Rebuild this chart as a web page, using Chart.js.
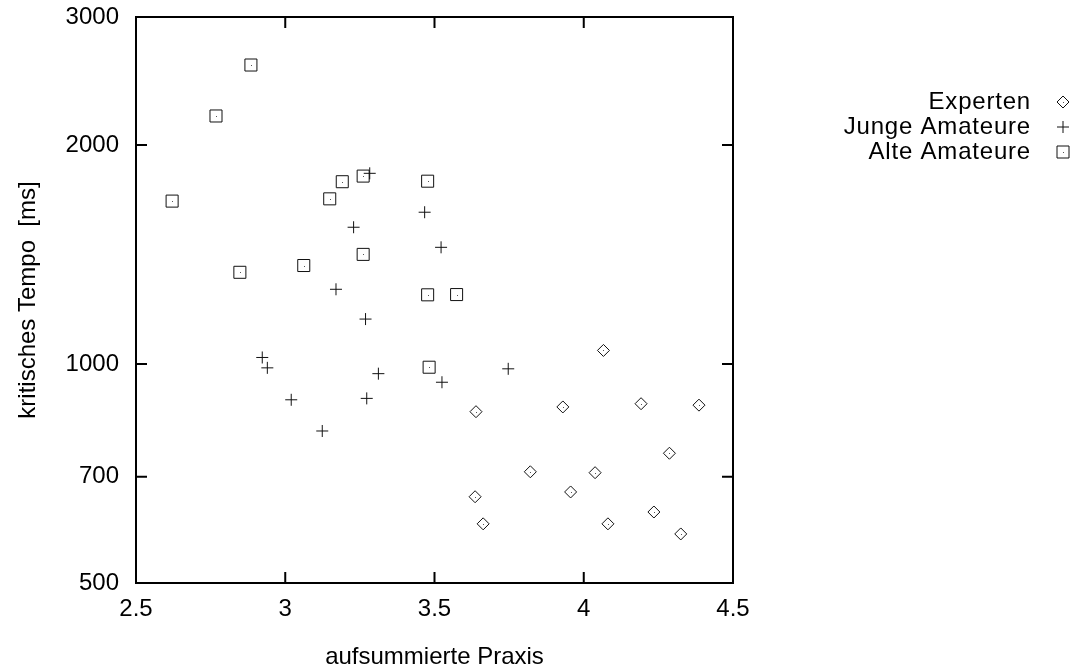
<!DOCTYPE html>
<html>
<head>
<meta charset="utf-8">
<script src="https://cdn.jsdelivr.net/npm/chart.js@4.4.0/dist/chart.umd.min.js"></script>
<style>
html,body{margin:0;padding:0;background:#fff;}
#wrap{width:1074px;height:672px;}
</style>
</head>
<body>
<div id="wrap"><canvas id="c" width="1074" height="672"></canvas></div>
<script>
const seriesNames = ['Experten', 'Junge Amateure', 'Alte Amateure'];
const expertenX = [4.066, 3.639, 3.930, 4.192, 4.386, 4.287, 3.821, 4.038, 3.956, 3.636, 4.235, 3.663, 4.081, 4.325];
const expertenY = [1044, 860, 873, 882, 878, 754, 711, 709, 667, 657, 626, 603, 603, 584];
const jungeX = [3.283, 3.467, 3.229, 3.522, 3.170, 3.269, 2.923, 2.940, 3.312, 3.525, 3.020, 3.273, 3.124, 3.747];
const jungeY = [1829, 1617, 1542, 1447, 1267, 1153, 1021, 988, 970, 944, 893, 897, 809, 985];
const alteX = [2.885, 2.768, 2.621, 3.149, 3.191, 3.261, 3.477, 2.848, 3.062, 3.261, 3.477, 3.574, 3.482];
const alteY = [2577, 2193, 1675, 1687, 1781, 1813, 1784, 1337, 1366, 1415, 1245, 1246, 990];
const xTicks = [2.5, 3, 3.5, 4, 4.5];
const yTicks = [500, 700, 1000, 2000, 3000];
const xTitle = 'aufsummierte Praxis';
const yTitle = 'kritisches Tempo  [ms]';

const FONT = 'Liberation Sans';
const FSIZE = 24;
const pts = (xs, ys) => xs.map((x, i) => ({x: x, y: ys[i]}));

const styles = [
  {pointStyle: 'rectRot', pointRadius: 6},
  {pointStyle: 'cross', pointRadius: 6},
  {pointStyle: 'rect', pointRadius: 8.5}
];
const dataSets = [pts(expertenX, expertenY), pts(jungeX, jungeY), pts(alteX, alteY)];

function drawMarker(ctx, style, x, y) {
  ctx.beginPath();
  if (style === 'rectRot') {
    const r = 6;
    ctx.moveTo(x - r, y); ctx.lineTo(x, y - r); ctx.lineTo(x + r, y); ctx.lineTo(x, y + r); ctx.closePath();
  } else if (style === 'cross') {
    const r = 6;
    ctx.moveTo(x - r, y); ctx.lineTo(x + r, y); ctx.moveTo(x, y - r); ctx.lineTo(x, y + r);
  } else {
    const s = 6;
    ctx.rect(x - s, y - s, 2 * s, 2 * s);
  }
  ctx.stroke();
  if (style !== 'cross') {
    ctx.fillStyle = '#555';
    ctx.fillRect(Math.round(x), Math.round(y), 1, 1);
    ctx.fillStyle = '#000';
  }
}

const framePlugin = {
  id: 'frame',
  afterDatasetsDraw(chart) {
    const ctx = chart.ctx;
    ctx.save();
    ctx.fillStyle = '#555';
    chart.data.datasets.forEach((ds, i) => {
      if (ds.pointStyle === 'cross') return;
      chart.getDatasetMeta(i).data.forEach(el => {
        ctx.fillRect(Math.round(el.x), Math.round(el.y), 1, 1);
      });
    });
    ctx.restore();
  },
  afterDraw(chart) {
    const ctx = chart.ctx;
    const a = chart.chartArea;
    const xs = chart.scales.x, ys = chart.scales.y;
    const L = 11;
    ctx.save();
    ctx.strokeStyle = '#000';
    ctx.lineWidth = 2;
    ctx.beginPath();
    xTicks.forEach(v => {
      const px = xs.getPixelForValue(v);
      ctx.moveTo(px, a.bottom); ctx.lineTo(px, a.bottom - L);
      ctx.moveTo(px, a.top); ctx.lineTo(px, a.top + L);
    });
    yTicks.forEach(v => {
      const py = ys.getPixelForValue(v);
      ctx.moveTo(a.left, py); ctx.lineTo(a.left + L, py);
      ctx.moveTo(a.right, py); ctx.lineTo(a.right - L, py);
    });
    ctx.stroke();
    ctx.strokeRect(a.left, a.top, a.right - a.left, a.bottom - a.top);
    // legend
    ctx.font = FSIZE + 'px "' + FONT + '"';
    if ('letterSpacing' in ctx) ctx.letterSpacing = '0.8px';
    ctx.fillStyle = '#000';
    ctx.textAlign = 'right';
    ctx.textBaseline = 'middle';
    ctx.lineWidth = 1;
    ctx.strokeStyle = '#111';
    const rows = [102, 127, 152];
    chart.data.datasets.forEach((ds, i) => {
      ctx.fillText(ds.label, 1031, rows[i]);
      drawMarker(ctx, ds.pointStyle, 1063, rows[i]);
    });
    if ('letterSpacing' in ctx) ctx.letterSpacing = '0px';
    ctx.restore();
  }
};

new Chart(document.getElementById('c'), {
  type: 'scatter',
  data: {
    datasets: dataSets.map((d, i) => ({
      label: seriesNames[i],
      data: d,
      pointStyle: styles[i].pointStyle,
      pointRadius: styles[i].pointRadius,
      pointHoverRadius: styles[i].pointRadius,
      borderColor: '#111',
      backgroundColor: 'rgba(0,0,0,0)',
      borderWidth: 1,
      pointBorderWidth: 1
    }))
  },
  options: {
    responsive: false,
    animation: false,
    events: [],
    layout: {padding: {left: 0, right: 341, top: 17, bottom: 0}},
    plugins: {legend: {display: false}, tooltip: {enabled: false}},
    scales: {
      x: {
        type: 'linear', min: 2.5, max: 4.5,
        afterBuildTicks(s) { s.ticks = xTicks.map(v => ({value: v})); },
        afterFit(s) { s.height = 89; s.paddingLeft = 0; s.paddingRight = 0; },
        grid: {display: false, drawTicks: false},
        border: {display: false},
        ticks: {padding: 12, color: '#000', font: {family: FONT, size: FSIZE}, maxRotation: 0,
                callback: v => String(v)},
        title: {display: true, text: xTitle, color: '#000', font: {family: FONT, size: FSIZE}, padding: {top: 0, bottom: 0}}
      },
      y: {
        type: 'logarithmic', min: 500, max: 3000,
        afterBuildTicks(s) { s.ticks = yTicks.map(v => ({value: v})); },
        afterFit(s) { s.width = 136; s.paddingTop = 0; s.paddingBottom = 0; },
        grid: {display: false, drawTicks: false},
        border: {display: false},
        ticks: {padding: 17, color: '#000', font: {family: FONT, size: FSIZE},
                callback: v => String(v)},
        title: {display: true, text: yTitle, color: '#000', font: {family: FONT, size: FSIZE}, padding: {top: 14, bottom: 0}}
      }
    }
  },
  plugins: [framePlugin]
});
</script>
</body>
</html>
